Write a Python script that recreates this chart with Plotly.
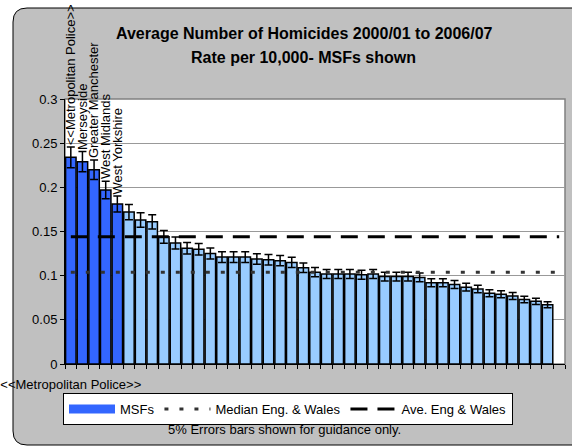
import plotly.graph_objects as go

# ---------------- data ----------------
categories = [
    "<<Metropolitan Police>>", "Merseyside", "Greater Manchester", "West Midlands", "West Yorkshire",
    "Force 6", "Force 7", "Force 8", "Force 9", "Force 10", "Force 11", "Force 12", "Force 13",
    "Force 14", "Force 15", "Force 16", "Force 17", "Force 18", "Force 19", "Force 20", "Force 21",
    "Force 22", "Force 23", "Force 24", "Force 25", "Force 26", "Force 27", "Force 28", "Force 29",
    "Force 30", "Force 31", "Force 32", "Force 33", "Force 34", "Force 35", "Force 36", "Force 37",
    "Force 38", "Force 39", "Force 40", "Force 41", "Force 42", "Force 43",
]
rates = [
    0.234, 0.229, 0.220, 0.197, 0.181, 0.172, 0.163, 0.161, 0.144, 0.137,
    0.131, 0.130, 0.125, 0.121, 0.121, 0.121, 0.119, 0.118, 0.117, 0.115,
    0.109, 0.104, 0.102, 0.102, 0.102, 0.101, 0.102, 0.099, 0.099, 0.099,
    0.098, 0.092, 0.092, 0.090, 0.087, 0.085, 0.080, 0.079, 0.077, 0.073,
    0.071, 0.067,
]
msf_count = 5
msf_labels = ["<<Metropolitan Police>>", "Merseyside", "Greater Manchester", "West Midlands", "West Yorkshire"]
median_ew = 0.104
average_ew = 0.144
error_pct = 5
tick_labels = ["<<Metropolitan Police>>"] + [""] * (len(categories) - 1)

title_line1 = "Average Number of Homicides 2000/01 to 2006/07"
title_line2 = "Rate per 10,000- MSFs shown"
footnote = "5% Errors bars shown for guidance only."

# ---------------- geometry helpers (pixel -> paper) ----------------
W, H = 572, 448
L, R, T, B = 65, 7, 99, 84
PW, PH = W - L - R, H - T - B


def px(x):
    return (x - L) / PW


def py(y):
    return (H - B - y) / PH


FONT = "Liberation Sans, Arial, sans-serif"
DARK = "#3366FF"
LIGHT = "#99CCFF"

err = dict(type="percent", value=error_pct, color="black", thickness=1.5, width=4)

fig = go.Figure()
fig.add_trace(go.Bar(
    x=categories[:msf_count], y=rates[:msf_count], name="MSFs", showlegend=False,
    marker=dict(color=DARK, line=dict(color="black", width=1.5)), error_y=err,
))
fig.add_trace(go.Bar(
    x=categories[msf_count:len(rates)], y=rates[msf_count:], name="Other forces", showlegend=False,
    marker=dict(color=LIGHT, line=dict(color="black", width=1.5)), error_y=err,
))
# legend proxy for the MSF bars
fig.add_trace(go.Scatter(
    x=[None], y=[None], mode="lines", name="MSFs",
    line=dict(color=DARK, width=9),
))
fig.add_trace(go.Scatter(
    x=[categories[0], categories[-1]], y=[median_ew, median_ew], mode="lines",
    name="Median Eng. & Wales", line=dict(color="#333333", width=3, dash="4px,11px"),
))
fig.add_trace(go.Scatter(
    x=[categories[0], categories[-1]], y=[average_ew, average_ew], mode="lines",
    name="Ave. Eng & Wales", line=dict(color="black", width=3, dash="17px,10px"),
))

# rotated data labels above MSF bars
annotations = []
for name, lab, v in zip(categories[:msf_count], msf_labels, rates[:msf_count]):
    annotations.append(dict(
        x=name, y=v * (1 + error_pct / 100), xref="x", yref="y", text=lab, textangle=-90,
        showarrow=False, xanchor="center", yanchor="bottom", font=dict(size=13, color="black"),
    ))

annotations += [
    dict(x=px(304), y=py(33), xref="paper", yref="paper", text="<b>%s</b>" % title_line1,
         showarrow=False, xanchor="center", yanchor="middle", font=dict(size=16, color="black")),
    dict(x=px(303), y=py(57), xref="paper", yref="paper", text="<b>%s</b>" % title_line2,
         showarrow=False, xanchor="center", yanchor="middle", font=dict(size=16, color="black")),
    dict(x=px(284), y=py(429), xref="paper", yref="paper", text=footnote,
         showarrow=False, xanchor="center", yanchor="middle", font=dict(size=13, color="black")),
]

# rounded chart-area background + white plot area
x0, x1 = px(13), px(590)
y0, y1 = py(445), py(8)
rx, ry = 14 / PW, 14 / PH
chart_path = (
    f"M {x0 + rx},{y1} L {x1},{y1} L {x1},{y0} L {x0 + rx},{y0} "
    f"Q {x0},{y0} {x0},{y0 + ry} L {x0},{y1 - ry} Q {x0},{y1} {x0 + rx},{y1} Z"
)
shapes = [
    dict(type="path", path=chart_path, xref="paper", yref="paper", layer="below",
         fillcolor="#C0C0C0", line=dict(color="black", width=1)),
    dict(type="rect", x0=0, x1=1, y0=0, y1=1, xref="paper", yref="paper", layer="below",
         fillcolor="white", line=dict(color="#808080", width=1.5)),
]

fig.update_layout(
    width=W, height=H,
    margin=dict(l=L, r=R, t=T, b=B, pad=0, autoexpand=False),
    paper_bgcolor="white", plot_bgcolor="rgba(0,0,0,0)",
    font=dict(family=FONT, size=13, color="black"),
    barmode="overlay", bargap=0.1,
    showlegend=True,
    legend=dict(
        orientation="h", x=px(63), y=py(393), xanchor="left", yanchor="top",
        bgcolor="white", bordercolor="black", borderwidth=1,
        font=dict(size=13, color="black"), itemwidth=46, traceorder="normal",
    ),
    annotations=annotations, shapes=shapes,
    xaxis=dict(
        type="category", categoryorder="array", categoryarray=categories,
        range=[-0.5, len(categories) - 0.5],
        tickmode="array", tickvals=categories, ticktext=tick_labels,
        tickson="boundaries", ticks="outside", ticklen=4, tickcolor="black",
        showline=True, linecolor="black", linewidth=1, showgrid=False,
        tickangle=0, tickfont=dict(size=13, color="black"), ticklabelstandoff=8,
        zeroline=False, fixedrange=True, automargin=False,
    ),
    yaxis=dict(
        range=[0, 0.3], tick0=0, dtick=0.05, ticks="outside", ticklen=4, tickcolor="black",
        showline=True, linecolor="black", linewidth=1,
        showgrid=True, gridcolor="#999999", gridwidth=1, zeroline=False,
        tickfont=dict(size=13, color="black"), fixedrange=True, automargin=False,
    ),
)

fig.write_html(
    "out.html",
    config={"displayModeBar": False},
    post_script="document.body.style.margin='0';document.body.style.overflow='hidden';",
)
